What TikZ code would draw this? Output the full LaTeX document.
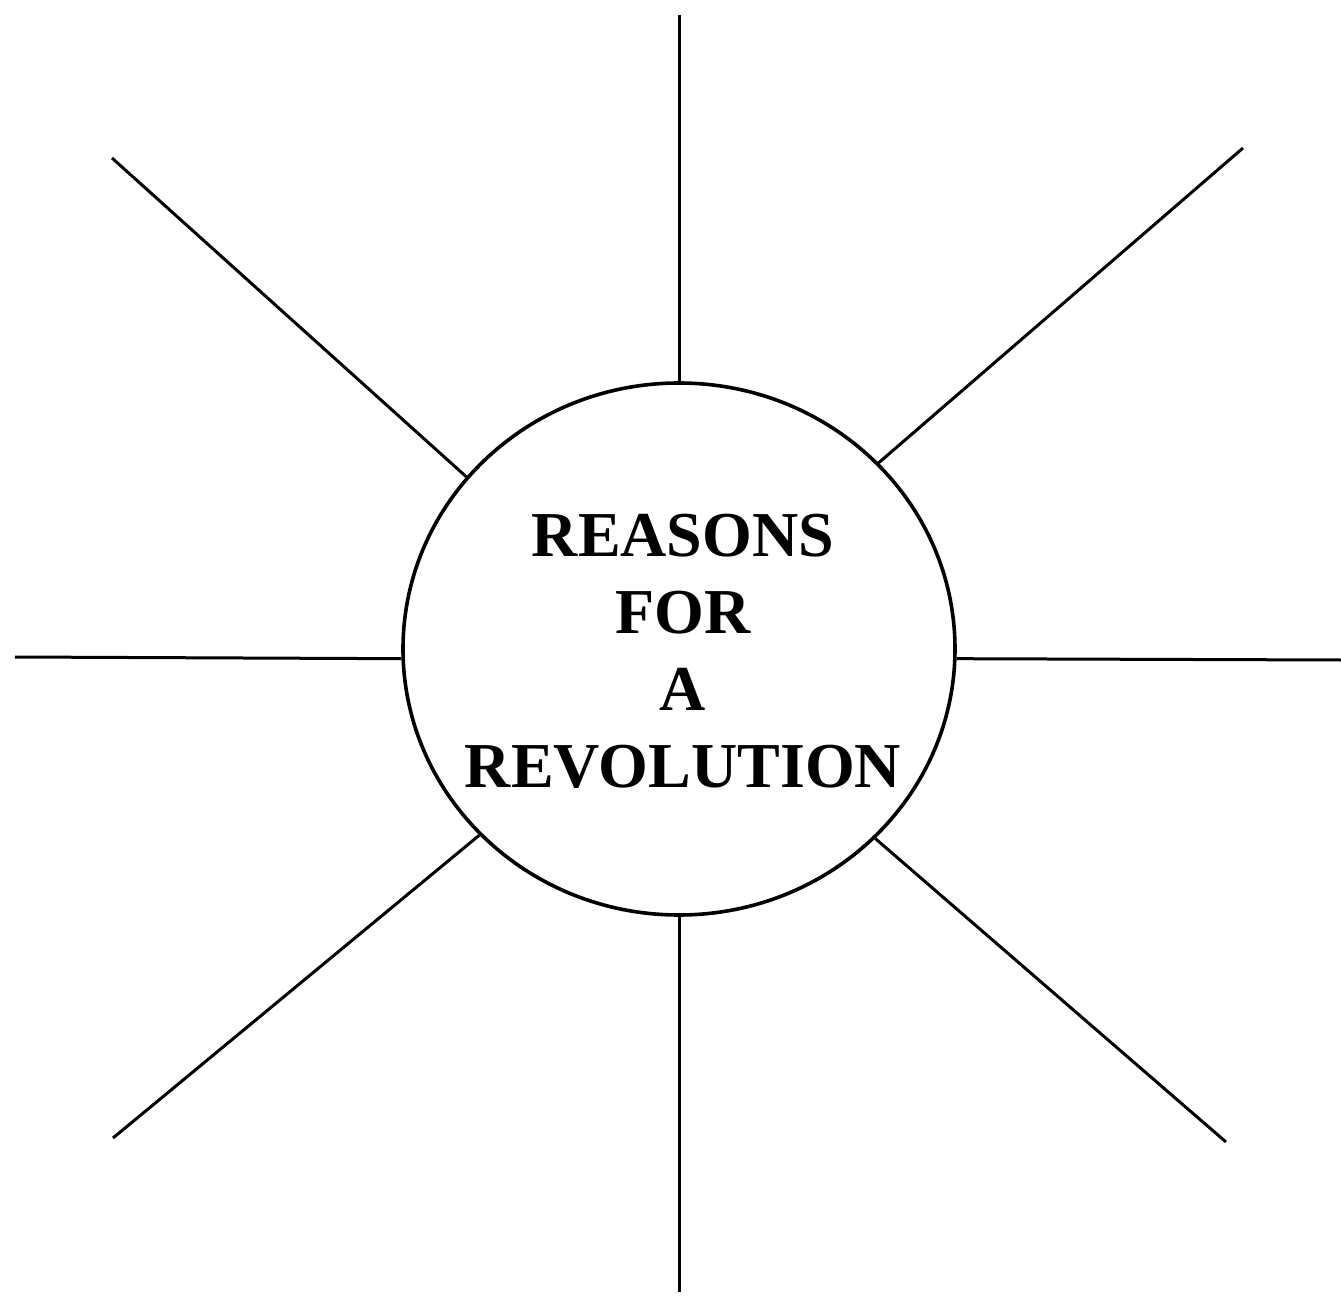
\documentclass[tikz,border=0pt]{standalone}
\usepackage{fontspec}
\setmainfont{Liberation Serif}
\usetikzlibrary{shapes.geometric}
\tikzset{
  hub/.style={draw,ellipse,line width=1.8pt,minimum width=276pt,minimum height=266pt,inner sep=0pt},
  title/.style={align=center,inner sep=0pt,font=\bfseries\fontsize{32}{38.5}\selectfont},
  ray/.style={line width=1.5pt}
}
\begin{document}
\begin{tikzpicture}[x=0.5pt,y=-0.5pt]
      \useasboundingbox (0,0) rectangle (1341,1301);
      \node[hub] (R) at (679,649){};
      \node[title] (T) at (683,651){REASONS\\FOR\\A\\REVOLUTION};

      \coordinate (N) at (679,15);
      \coordinate (S) at (679,1292);
      \coordinate (W) at (15,657);
      \coordinate (E) at (1341,660);
      \coordinate (NW) at (112,158);
      \coordinate (NE) at (1243,148);
      \coordinate (SW) at (113,1138);
      \coordinate (SE) at (1226,1142);

      \draw[ray] (R.north) -- (N);
      \draw[ray] (R.south) -- (S);
      \draw[ray] (R.182.7) -- (W);
      \draw[ray] (R.-2.9) -- (E);
      \draw[ray] (R.141.6) -- (NW);
      \draw[ray] (R.43.6) -- (NE);
      \draw[ray] (R.223.4) -- (SW);
      \draw[ray] (R.-44.3) -- (SE);
    \end{tikzpicture}
\end{document}
